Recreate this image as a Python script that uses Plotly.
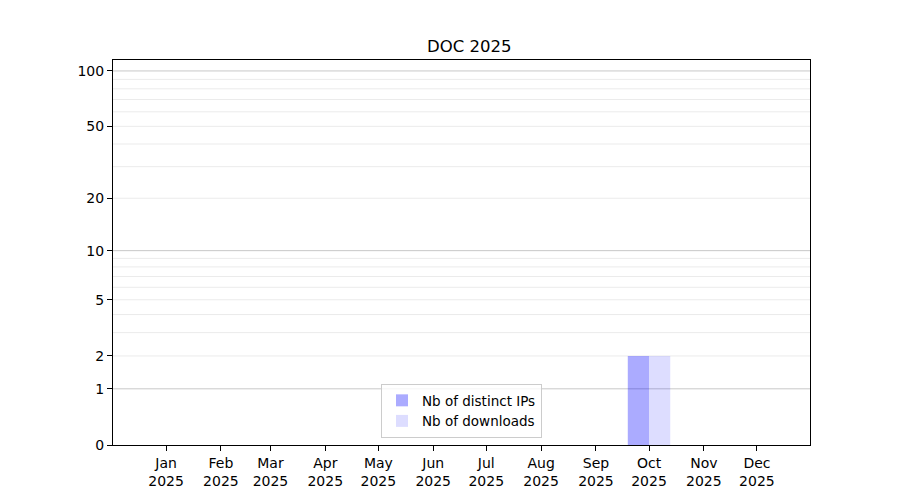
import numpy as np
import plotly.graph_objects as go

months = ["Jan", "Feb", "Mar", "Apr", "May", "Jun", "Jul", "Aug", "Sep", "Oct", "Nov", "Dec"]
month_dates = ["2025-%02d-01" % m for m in range(1, 13)]
distinct_ips = [0, 0, 0, 0, 0, 0, 0, 0, 0, 2, 0, 0]
downloads = [0, 0, 0, 0, 0, 0, 0, 0, 0, 2, 0, 0]
major_ticks = [0, 1, 2, 5, 10, 20, 50, 100]
dark_grid = [1, 10, 100]
light_grid = [2, 3, 4, 5, 6, 7, 8, 9, 20, 30, 40, 50, 60, 70, 80, 90]


def f(v):
    return np.log10(1 + np.asarray(v, dtype=float))


DAY = 86400000
W = 12 * DAY

fig = go.Figure()
fig.add_trace(go.Bar(
    x=month_dates, y=f(distinct_ips), name="Nb of distinct IPs",
    width=W, offset=-W, marker=dict(color="rgba(0,0,255,0.33)", line=dict(width=0)),
))
fig.add_trace(go.Bar(
    x=month_dates, y=f(downloads), name="Nb of downloads",
    width=W, offset=0, marker=dict(color="rgba(0,0,255,0.135)", line=dict(width=0)),
))

font = "DejaVu Sans"
fig.update_layout(
    width=900, height=500,
    margin=dict(l=105, r=98, t=52, b=63),
    paper_bgcolor="white", plot_bgcolor="white",
    font=dict(family=font, size=14, color="black"),
    title=dict(text="DOC 2025", x=0.5125, xanchor="center", y=0.924, yanchor="middle",
               font=dict(family=font, size=16.5, color="black")),
    barmode="overlay",
    showlegend=True,
    legend=dict(x=0.5, xanchor="center", y=0.018, yanchor="bottom",
                bgcolor="rgba(255,255,255,0.8)", bordercolor="#cccccc", borderwidth=1,
                font=dict(family=font, size=13.5), tracegroupgap=0,
                itemwidth=30),
    xaxis=dict(
        type="date", range=["2024-12-02", "2025-12-31"],
        tickmode="array", tickvals=month_dates,
        ticktext=[m + "<br>2025" for m in months],
        ticks="outside", ticklen=5, tickcolor="black", tickwidth=1,
        showgrid=False, zeroline=False,
        showline=True, linecolor="black", linewidth=1, mirror=True,
        tickfont=dict(family=font, size=14),
    ),
    yaxis=dict(
        range=[0, 2.063],
        tickmode="array", tickvals=list(f(major_ticks)), ticktext=[str(t) for t in major_ticks],
        ticks="outside", ticklen=5, tickcolor="black", tickwidth=1,
        showgrid=False, zeroline=False,
        showline=True, linecolor="black", linewidth=1, mirror=True,
        tickfont=dict(family=font, size=14),
    ),
)

shapes = []
for v in light_grid:
    shapes.append(dict(type="line", xref="paper", x0=0, x1=1, yref="y", y0=float(f(v)), y1=float(f(v)),
                       line=dict(color="#ebebeb", width=1), layer="below"))
for v in dark_grid:
    shapes.append(dict(type="line", xref="paper", x0=0, x1=1, yref="y", y0=float(f(v)), y1=float(f(v)),
                       line=dict(color="#c8c8c8", width=1), layer="below"))
fig.update_layout(shapes=shapes)

fig.write_html("out.html")
